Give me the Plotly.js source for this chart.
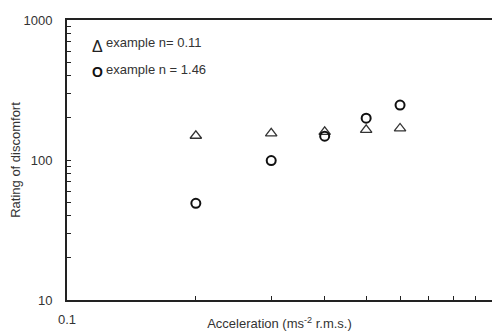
<!DOCTYPE html>
<html><head><meta charset="utf-8">
<script src="https://cdn.plot.ly/plotly-3.0.1.min.js"></script>
<style>html,body{margin:0;padding:0;background:#fff}#c{width:492px;height:331px}</style>
</head><body><div id="c"></div>
<script>
const accel = [0.2, 0.3, 0.4, 0.5, 0.6];
const ratingN011 = [149, 155, 159, 164, 168];
const ratingN146 = [49, 99, 148, 199, 247];
const nameN011 = 'example n= 0.11';
const nameN146 = 'example n = 1.46';
const xTickVals = [0.1,0.2,0.3,0.4,0.5,0.6,0.7,0.8,0.9,1];
const xTickText = ['0.1','','','','','','','','',''];
const yTickVals = [10,20,30,40,50,60,70,80,90,100,200,300,400,500,600,700,800,900,1000];
const yTickText = ['10','','','','','','','','','100','','','','','','','','','1000'];

const fam = 'Liberation Sans, Arial, sans-serif';
const font = {family:fam, size:13, color:'#333'};
const traces = [
  {x:accel, y:ratingN011, name:nameN011, type:'scatter', mode:'markers',
   marker:{symbol:'triangle-up-open', size:10, color:'#333', line:{width:1.3, color:'#333'}}},
  {x:accel, y:ratingN146, name:nameN146, type:'scatter', mode:'markers',
   marker:{symbol:'circle-open', size:9, color:'#111', line:{width:2, color:'#111'}}}
];
const annotations = [
  {xref:'paper', yref:'paper', x:0.0706, y:0.905, xanchor:'center', yanchor:'middle', showarrow:false,
   text:'Δ', font:{family:fam, size:16, color:'#222'}},
  {xref:'paper', yref:'paper', x:0.087, y:0.92, xanchor:'left', yanchor:'middle', showarrow:false,
   text:nameN011, font:font},
  {xref:'paper', yref:'paper', x:0.0706, y:0.814, xanchor:'center', yanchor:'middle', showarrow:false,
   text:'<b>O</b>', font:{family:fam, size:14, color:'#111'}},
  {xref:'paper', yref:'paper', x:0.087, y:0.822, xanchor:'left', yanchor:'middle', showarrow:false,
   text:nameN146, font:font}
];
const layout = {
  width:492, height:331,
  margin:{l:67, r:0, t:20, b:31},
  paper_bgcolor:'#fff', plot_bgcolor:'#fff',
  font:font,
  showlegend:false,
  annotations:annotations,
  xaxis:{type:'log', range:[-1, -0.007], tickvals:xTickVals, ticktext:xTickText,
    ticks:'inside', ticklen:4, tickcolor:'#222', tickwidth:1,
    showline:true, linecolor:'#222', linewidth:2, mirror:true, showgrid:false, zeroline:false,
    ticklabelstandoff:6,
    title:{text:'Acceleration (ms<sup>-2</sup> r.m.s.)', font:font, standoff:0}},
  yaxis:{type:'log', range:[1, 3], tickvals:yTickVals, ticktext:yTickText,
    ticks:'inside', ticklen:4, tickcolor:'#222', tickwidth:1,
    showline:true, linecolor:'#222', linewidth:2, showgrid:false, zeroline:false,
    ticklabelstandoff:10,
    title:{text:'Rating of discomfort', font:font, standoff:0}}
};
Plotly.newPlot('c', traces, layout, {displayModeBar:false, staticPlot:true});
</script></body></html>
